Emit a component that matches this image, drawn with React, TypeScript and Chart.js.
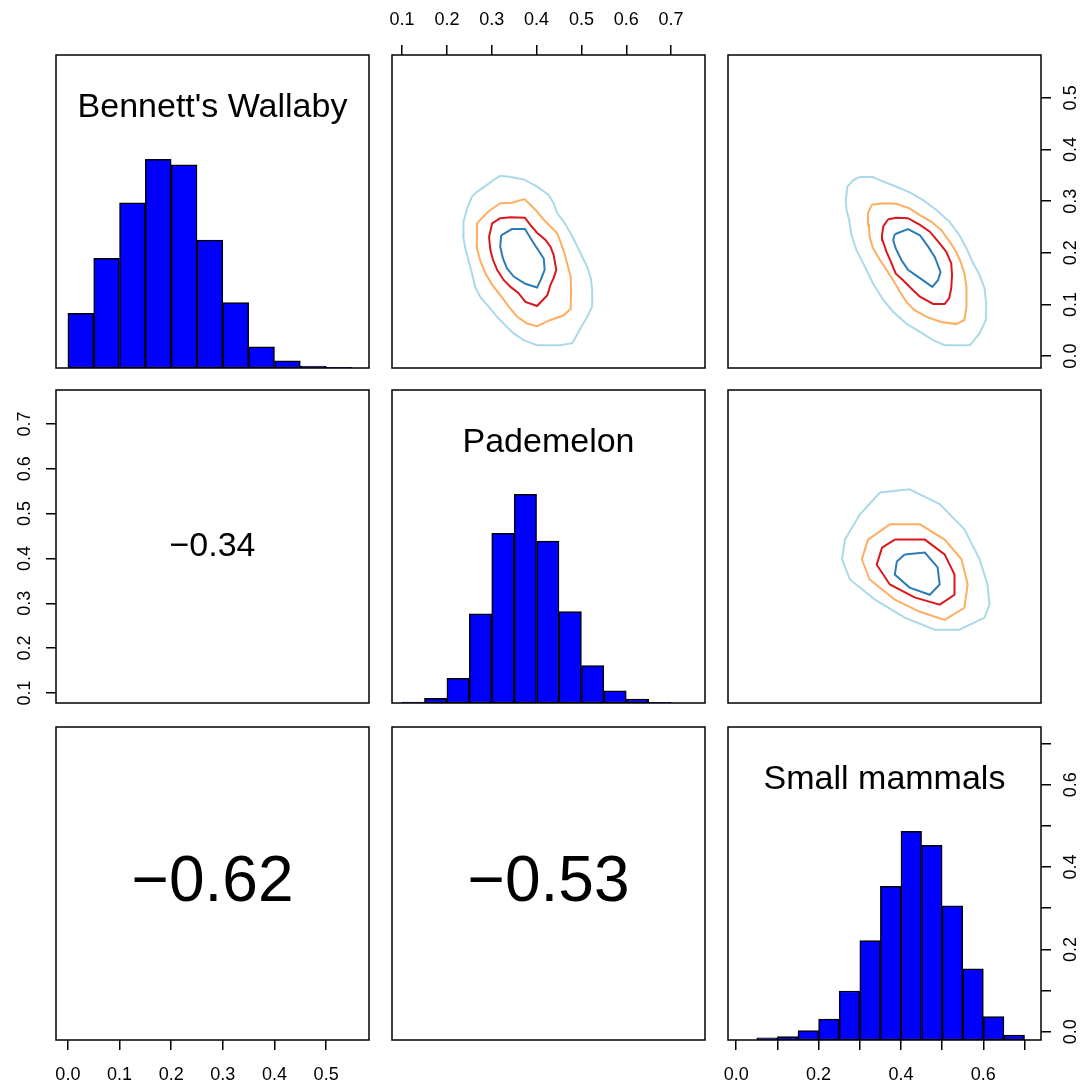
import { useEffect, useRef } from 'react';
import { Chart, registerables } from 'chart.js';

Chart.register(...registerables);

const FONT = "'Liberation Sans', Arial, Helvetica, sans-serif";

// ---------------- data ----------------
const VARIABLES = ["Bennett's Wallaby", 'Pademelon', 'Small mammals'];
// axis limits per variable (R usr, 4% extension of data range)
const VAR_MIN = [-0.023, 0.0776, -0.02];
const VAR_MAX = [0.583, 0.7756, 0.74];

const BW_TICKS = [0, 0.1, 0.2, 0.3, 0.4, 0.5];
const PA_TICKS = [0.1, 0.2, 0.3, 0.4, 0.5, 0.6, 0.7];
const SM_TICKS = [0, 0.1, 0.2, 0.3, 0.4, 0.5, 0.6, 0.7];
const BW_TICK_LABELS = ['0.0', '0.1', '0.2', '0.3', '0.4', '0.5'];
const PA_TICK_LABELS = ['0.1', '0.2', '0.3', '0.4', '0.5', '0.6', '0.7'];
const SM_TICK_LABELS = ['0.0', '', '0.2', '', '0.4', '', '0.6', ''];

// histogram bin edges and relative heights (count / max count)
const BW_BREAKS = [0, 0.05, 0.1, 0.15, 0.2, 0.25, 0.3, 0.35, 0.4, 0.45, 0.5, 0.55];
const BW_HIST = [0.262, 0.526, 0.792, 1.0, 0.974, 0.613, 0.313, 0.102, 0.034, 0.0096, 0.003];
const PA_BREAKS = [0.1, 0.15, 0.2, 0.25, 0.3, 0.35, 0.4, 0.45, 0.5, 0.55, 0.6, 0.65, 0.7];
const PA_HIST = [0.005, 0.022, 0.118, 0.427, 0.813, 1.0, 0.776, 0.438, 0.179, 0.058, 0.019, 0.003];
const SM_BREAKS = [0.05, 0.1, 0.15, 0.2, 0.25, 0.3, 0.35, 0.4, 0.45, 0.5, 0.55, 0.6, 0.65, 0.7];
const SM_HIST = [0.01, 0.016, 0.045, 0.1, 0.235, 0.477, 0.736, 1.0, 0.933, 0.643, 0.341, 0.112, 0.024];

// correlations
const COR_BW_PA = '−0.34';
const COR_BW_SM = '−0.62';
const COR_PA_SM = '−0.53';

// contour colours (outer -> inner)
const CONTOUR_COLORS = ['#abd9e9', '#fdae61', '#d7191c', '#2c7bb6'];

type Pt = [number, number];
// x = Pademelon, y = Bennett's Wallaby
const PA_BW_1: Pt[] = [[0.319,0.349],[0.342,0.347],[0.371,0.342],[0.401,0.328],[0.427,0.312],[0.438,0.296],[0.446,0.277],[0.461,0.260],[0.480,0.231],[0.491,0.212],[0.502,0.192],[0.513,0.173],[0.521,0.151],[0.524,0.128],[0.524,0.096],[0.513,0.076],[0.498,0.054],[0.480,0.025],[0.453,0.021],[0.424,0.021],[0.401,0.021],[0.371,0.031],[0.349,0.044],[0.330,0.060],[0.312,0.076],[0.293,0.096],[0.274,0.115],[0.263,0.134],[0.256,0.160],[0.248,0.186],[0.241,0.209],[0.236,0.234],[0.237,0.260],[0.245,0.286],[0.256,0.309],[0.267,0.318],[0.289,0.331],[0.304,0.341]];
const PA_BW_2: Pt[] = [[0.319,0.296],[0.345,0.297],[0.373,0.304],[0.386,0.293],[0.401,0.280],[0.416,0.264],[0.431,0.251],[0.446,0.238],[0.453,0.222],[0.461,0.202],[0.468,0.180],[0.476,0.154],[0.477,0.122],[0.476,0.092],[0.461,0.079],[0.431,0.070],[0.401,0.058],[0.379,0.063],[0.357,0.076],[0.338,0.096],[0.319,0.118],[0.301,0.138],[0.286,0.160],[0.274,0.186],[0.266,0.212],[0.267,0.257],[0.289,0.277],[0.297,0.283]];
const PA_BW_3: Pt[] = [[0.319,0.267],[0.342,0.269],[0.374,0.268],[0.386,0.254],[0.401,0.239],[0.420,0.225],[0.431,0.212],[0.438,0.196],[0.444,0.167],[0.438,0.151],[0.431,0.138],[0.424,0.118],[0.401,0.097],[0.375,0.105],[0.360,0.122],[0.342,0.134],[0.327,0.147],[0.312,0.167],[0.303,0.186],[0.297,0.205],[0.294,0.231],[0.301,0.257]];
const PA_BW_4: Pt[] = [[0.321,0.234],[0.345,0.246],[0.374,0.246],[0.394,0.218],[0.416,0.189],[0.418,0.167],[0.409,0.147],[0.401,0.133],[0.375,0.140],[0.349,0.154],[0.334,0.170],[0.325,0.189],[0.319,0.212]];
// x = Small mammals, y = Bennett's Wallaby
const SM_BW_1: Pt[] = [[0.300,0.347],[0.331,0.347],[0.357,0.338],[0.389,0.328],[0.421,0.317],[0.454,0.302],[0.486,0.283],[0.518,0.260],[0.542,0.234],[0.559,0.209],[0.575,0.180],[0.591,0.157],[0.603,0.131],[0.607,0.102],[0.606,0.070],[0.591,0.044],[0.567,0.021],[0.534,0.021],[0.506,0.021],[0.478,0.031],[0.446,0.047],[0.413,0.063],[0.381,0.086],[0.357,0.109],[0.332,0.141],[0.308,0.180],[0.292,0.205],[0.280,0.234],[0.274,0.264],[0.268,0.283],[0.266,0.302],[0.270,0.328],[0.284,0.341]];
const SM_BW_2: Pt[] = [[0.329,0.293],[0.357,0.296],[0.389,0.295],[0.421,0.286],[0.446,0.273],[0.474,0.260],[0.498,0.244],[0.518,0.222],[0.534,0.202],[0.546,0.180],[0.554,0.160],[0.559,0.134],[0.559,0.096],[0.554,0.070],[0.534,0.062],[0.498,0.066],[0.462,0.076],[0.433,0.089],[0.413,0.105],[0.397,0.125],[0.381,0.147],[0.365,0.167],[0.349,0.186],[0.332,0.209],[0.324,0.231],[0.322,0.254],[0.320,0.277]];
const SM_BW_3: Pt[] = [[0.369,0.265],[0.389,0.268],[0.417,0.267],[0.446,0.254],[0.470,0.241],[0.490,0.222],[0.510,0.202],[0.522,0.180],[0.524,0.157],[0.522,0.131],[0.517,0.112],[0.506,0.101],[0.478,0.101],[0.446,0.115],[0.425,0.131],[0.405,0.147],[0.387,0.160],[0.377,0.180],[0.365,0.202],[0.355,0.225],[0.354,0.234],[0.357,0.251]];
const SM_BW_4: Pt[] = [[0.385,0.236],[0.417,0.246],[0.446,0.234],[0.466,0.212],[0.482,0.192],[0.496,0.163],[0.490,0.147],[0.476,0.134],[0.446,0.151],[0.417,0.167],[0.401,0.186],[0.387,0.209],[0.381,0.225]];
// x = Small mammals, y = Pademelon
const SM_PA_1: Pt[] = [[0.349,0.547],[0.421,0.554],[0.494,0.521],[0.554,0.465],[0.591,0.398],[0.610,0.342],[0.615,0.297],[0.603,0.268],[0.542,0.241],[0.482,0.241],[0.409,0.268],[0.337,0.308],[0.276,0.353],[0.257,0.398],[0.264,0.442],[0.300,0.498]];
const SM_PA_2: Pt[] = [[0.373,0.476],[0.446,0.476],[0.506,0.442],[0.547,0.398],[0.562,0.342],[0.554,0.290],[0.506,0.263],[0.446,0.281],[0.385,0.308],[0.324,0.353],[0.305,0.398],[0.320,0.442]];
const SM_PA_3: Pt[] = [[0.385,0.442],[0.458,0.442],[0.506,0.409],[0.530,0.364],[0.530,0.319],[0.494,0.297],[0.433,0.313],[0.373,0.342],[0.341,0.386],[0.354,0.424]];
const SM_PA_4: Pt[] = [[0.409,0.409],[0.458,0.413],[0.489,0.380],[0.494,0.342],[0.470,0.319],[0.421,0.335],[0.385,0.364],[0.390,0.393]];

const TICKS = [BW_TICKS, PA_TICKS, SM_TICKS];
const TICK_LABELS = [BW_TICK_LABELS, PA_TICK_LABELS, SM_TICK_LABELS];
const BREAKS = [BW_BREAKS, PA_BREAKS, SM_BREAKS];
const HISTS = [BW_HIST, PA_HIST, SM_HIST];

// ---------------- layout ----------------
const PAGE_W = 1089;
const PAGE_H = 1086;
const COL_X = [56, 392, 728];
const ROW_Y = [55, 390, 727];
const PANEL = 313;
const M = 60;

type Axes = { top?: boolean; bottom?: boolean; left?: boolean; right?: boolean };
type PanelSpec = {
  row: number; col: number; kind: 'hist' | 'contour' | 'cor';
  xVar: number; yVar: number; axes: Axes;
  contours?: Pt[][]; text?: string; textSize?: number;
};

const PANELS: PanelSpec[] = [
  { row: 0, col: 0, kind: 'hist', xVar: 0, yVar: 0, axes: {} },
  { row: 0, col: 1, kind: 'contour', xVar: 1, yVar: 0, axes: { top: true }, contours: [PA_BW_1, PA_BW_2, PA_BW_3, PA_BW_4] },
  { row: 0, col: 2, kind: 'contour', xVar: 2, yVar: 0, axes: { right: true }, contours: [SM_BW_1, SM_BW_2, SM_BW_3, SM_BW_4] },
  { row: 1, col: 0, kind: 'cor', xVar: 0, yVar: 1, axes: { left: true }, text: COR_BW_PA, textSize: 34 },
  { row: 1, col: 1, kind: 'hist', xVar: 1, yVar: 1, axes: {} },
  { row: 1, col: 2, kind: 'contour', xVar: 2, yVar: 1, axes: {}, contours: [SM_PA_1, SM_PA_2, SM_PA_3, SM_PA_4] },
  { row: 2, col: 0, kind: 'cor', xVar: 0, yVar: 2, axes: { bottom: true }, text: COR_BW_SM, textSize: 64 },
  { row: 2, col: 1, kind: 'cor', xVar: 1, yVar: 2, axes: {}, text: COR_PA_SM, textSize: 64 },
  { row: 2, col: 2, kind: 'hist', xVar: 2, yVar: 2, axes: { bottom: true, right: true } },
];

function scaleFor(v: number, position: string, shown: boolean) {
  const vertical = position === 'left' || position === 'right';
  return {
    type: 'linear',
    position,
    display: shown,
    min: VAR_MIN[v],
    max: VAR_MAX[v],
    offset: false,
    afterBuildTicks: (s: any) => {
      s.ticks = TICKS[v].map((value) => ({ value }));
    },
    afterFit: (s: any) => {
      if (!shown) return;
      if (vertical) s.width = M;
      else s.height = M;
    },
    grid: {
      display: true,
      offset: false,
      drawOnChartArea: false,
      drawTicks: true,
      tickLength: 10,
      lineWidth: 1.5,
      color: '#000',
      tickColor: '#000',
      tickWidth: 1.5,
    },
    border: { display: false },
    ticks: {
      display: true,
      autoSkip: false,
      color: '#000',
      font: { family: FONT, size: 18 },
      padding: vertical ? 8 : 14,
      minRotation: vertical ? 90 : 0,
      maxRotation: vertical ? 90 : 0,
      crossAlign: vertical ? 'center' : 'near',
      callback: (value: any) => {
        const i = TICKS[v].findIndex((t) => Math.abs(t - Number(value)) < 1e-9);
        return i >= 0 ? TICK_LABELS[v][i] : '';
      },
    },
  };
}

const framePlugin = {
  id: 'panelFrame',
  afterDraw(chart: any) {
    const { ctx, chartArea: a } = chart;
    ctx.save();
    ctx.strokeStyle = '#000';
    ctx.lineWidth = 1.5;
    ctx.strokeRect(a.left, a.top, a.right - a.left, a.bottom - a.top);
    ctx.restore();
  },
};

function textPlugin(text: string, size: number, atTop: boolean) {
  return {
    id: 'panelText',
    afterDraw(chart: any) {
      const { ctx, chartArea: a } = chart;
      ctx.save();
      ctx.font = `${size}px ${FONT}`;
      ctx.fillStyle = '#000';
      ctx.textAlign = 'center';
      ctx.textBaseline = 'middle';
      const y = atTop ? a.top + 53 : (a.top + a.bottom) / 2;
      ctx.fillText(text, (a.left + a.right) / 2, y);
      ctx.restore();
    },
  };
}

function buildConfig(p: PanelSpec): any {
  const ax = p.axes;
  const scales: any = {
    x: scaleFor(p.xVar, ax.top ? 'top' : 'bottom', !!(ax.top || ax.bottom)),
    y: scaleFor(p.yVar, ax.left ? 'left' : 'right', !!(ax.left || ax.right)),
  };
  const padding = {
    left: ax.left ? 0 : M,
    right: ax.right ? 0 : M,
    top: ax.top ? 0 : M,
    bottom: ax.bottom ? 0 : M,
  };
  const plugins: any[] = [];
  let type = 'scatter';
  let datasets: any[] = [];
  if (p.kind === 'hist') {
    type = 'bar';
    scales.yh = { type: 'linear', display: false, min: 0, max: 1.5 };
    const br = BREAKS[p.xVar];
    const h = HISTS[p.xVar];
    datasets = [
      {
        type: 'bar',
        data: h.map((val, i) => ({ x: (br[i] + br[i + 1]) / 2, y: val })),
        xAxisID: 'x',
        yAxisID: 'yh',
        backgroundColor: '#0000FF',
        borderColor: '#000',
        borderWidth: 1.5,
        borderSkipped: false,
        barPercentage: 1,
        categoryPercentage: 1,
      },
    ];
    plugins.push(textPlugin(VARIABLES[p.xVar], 34, true));
  } else if (p.kind === 'contour') {
    datasets = (p.contours || []).map((c, i) => ({
      type: 'scatter',
      data: [...c, c[0]].map(([x, y]) => ({ x, y })),
      showLine: true,
      fill: false,
      borderColor: CONTOUR_COLORS[i],
      borderWidth: 2,
      pointRadius: 0,
      tension: 0,
      xAxisID: 'x',
      yAxisID: 'y',
    }));
  } else {
    plugins.push(textPlugin(p.text || '', p.textSize || 40, false));
  }
  plugins.push(framePlugin);
  return {
    type,
    data: { datasets },
    options: {
      animation: false,
      responsive: false,
      maintainAspectRatio: false,
      events: [],
      layout: { padding },
      scales,
      plugins: { legend: { display: false }, tooltip: { enabled: false } },
    },
    plugins,
  };
}

function Panel({ spec }: { spec: PanelSpec }) {
  const ref = useRef<HTMLCanvasElement>(null);
  useEffect(() => {
    if (!ref.current) return;
    const chart = new Chart(ref.current, buildConfig(spec));
    return () => chart.destroy();
  }, [spec]);
  const size = PANEL + 2 * M;
  return (
    <canvas
      ref={ref}
      width={size}
      height={size}
      style={{
        position: 'absolute',
        left: COL_X[spec.col] - M,
        top: ROW_Y[spec.row] - M,
        width: size,
        height: size,
      }}
    />
  );
}

export default function App() {
  return (
    <div
      style={{
        position: 'absolute',
        left: 0,
        top: 0,
        width: PAGE_W,
        height: PAGE_H,
        overflow: 'hidden',
        background: '#fff',
      }}
    >
      {PANELS.map((p) => (
        <Panel key={`${p.row}-${p.col}`} spec={p} />
      ))}
    </div>
  );
}
